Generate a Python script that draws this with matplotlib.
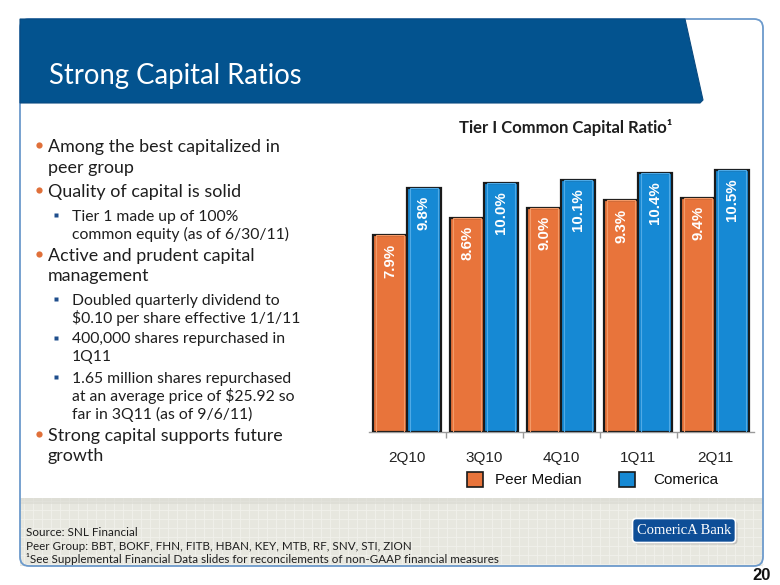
import matplotlib
matplotlib.use("Agg")
import matplotlib.pyplot as plt
from matplotlib.patches import Polygon, FancyBboxPatch, Rectangle
import numpy as np

# ---- data ----
quarters = ["2Q10", "3Q10", "4Q10", "1Q11", "2Q11"]
peer_median = [7.9, 8.6, 9.0, 9.3, 9.4]
comerica = [9.8, 10.0, 10.1, 10.4, 10.5]
series_names = ["Peer Median", "Comerica"]

slide_title = "Strong Capital Ratios"
chart_title = "Tier I Common Capital Ratio"
bullets = [
    (0, ["Among the best capitalized in", "peer group"]),
    (0, ["Quality of capital is solid"]),
    (1, ["Tier 1 made up of 100%", "common equity (as of 6/30/11)"]),
    (0, ["Active and prudent capital", "management"]),
    (1, ["Doubled quarterly dividend to", "$0.10 per share effective 1/1/11"]),
    (1, ["400,000 shares repurchased in", "1Q11"]),
    (1, ["1.65 million shares repurchased", "at an average price of $25.92 so", "far in 3Q11 (as of 9/6/11)"]),
    (0, ["Strong capital supports future", "growth"]),
]
footer_lines = [
    "Source: SNL Financial",
    "Peer Group: BBT, BOKF, FHN, FITB, HBAN, KEY, MTB, RF, SNV, STI, ZION",
    "\u00b9See Supplemental Financial Data slides for reconcilements of non-GAAP financial measures",
]

ORANGE = "#E8743B"
BLUE = "#1689D4"
HEADER = "#03538F"
BODY_FONT = ["Lato", "DejaVu Sans"]
ARIAL = ["Liberation Sans", "DejaVu Sans"]

W, H = 780, 585
fig = plt.figure(figsize=(7.8, 5.85), dpi=100)
bg = fig.add_axes([0, 0, 1, 1])
bg.set_xlim(0, W)
bg.set_ylim(H, 0)
bg.axis("off")

# footer band with grid texture
bg.add_patch(Rectangle((20, 498), 743, 68, facecolor="#E7E7DF", edgecolor="none", zorder=1))
for gx in np.arange(24, 763, 9):
    bg.plot([gx, gx], [498, 566], color="#F1F1EC", lw=0.6, zorder=1.1)
for gy in np.arange(501, 566, 9):
    bg.plot([20, 763], [gy, gy], color="#F1F1EC", lw=0.6, zorder=1.1)
bg.add_patch(Rectangle((20, 498), 743, 6, facecolor="#D9D9D0", edgecolor="none", alpha=0.6, zorder=1.2))

# frame
bg.add_patch(FancyBboxPatch((20, 19), 743, 547, boxstyle="round,pad=0,rounding_size=9",
                            facecolor="none", edgecolor="#6C9ACC", lw=1.3, zorder=2))

# header band
bg.add_patch(Polygon([(20, 19), (685, 19), (703, 100), (700, 103), (20, 103)],
                     closed=True, facecolor=HEADER, edgecolor="#0A4A80", lw=0.8, zorder=3))
bg.text(49, 76, slide_title, color="white", fontsize=19.8, family=BODY_FONT,
        va="center", ha="left", zorder=4)

# bullets
y = 147
for level, lines in bullets:
    if level == 0:
        bg.plot(39, y - 2, marker="o", ms=4.5, color="#E0703A", mec="none", zorder=4)
        x0, fs, dy = 48, 12.9, 20.5
    else:
        bg.plot(56, y - 2, marker="s", ms=3.5, color="#1F4E8C", mec="none", zorder=4)
        x0, fs, dy = 72, 11.3, 18
    for ln in lines:
        bg.text(x0, y, ln, fontsize=fs, family=BODY_FONT, color="#1E1E1E",
                va="center", ha="left", zorder=4)
        y += dy
    y += 4 if level == 0 else 3

# footer text
fy = [533, 546, 559]
for i, ln in enumerate(footer_lines):
    bg.text(26, fy[i], ln, fontsize=8.4, family=BODY_FONT, color="#1E1E1E",
            va="center", ha="left", zorder=4)

# logo
bg.add_patch(FancyBboxPatch((636, 522), 100, 21, boxstyle="round,pad=1.5,rounding_size=4",
                            facecolor="#9A9A9A", edgecolor="none", alpha=0.5, zorder=3))
bg.add_patch(FancyBboxPatch((634, 520), 100, 21, boxstyle="round,pad=1.5,rounding_size=4",
                            facecolor="#0E4E97", edgecolor="white", lw=1.2, zorder=4))
bg.text(684, 531, "ComericA Bank", color="white", fontsize=10.5,
        family=["Liberation Serif", "DejaVu Serif"], ha="center", va="center", zorder=5)

# page number
bg.text(762, 576, "20", fontsize=12, fontweight="bold", family=ARIAL,
        ha="center", va="center", color="#111111")

# chart title
bg.text(566, 128, chart_title + "\u00b9", fontsize=12, fontweight="bold", family=BODY_FONT,
        ha="center", va="center", color="#1E1E1E")

# ---- chart ----
left_px, right_px, base_px = 368.5, 753.5, 432
top_px = 133
ax = fig.add_axes([left_px / W, (H - base_px) / H, (right_px - left_px) / W, (base_px - top_px) / H])
ax.set_facecolor("none")
x = np.arange(len(quarters))
bw = 0.44
b1 = ax.bar(x - bw / 2, peer_median, bw, color=ORANGE, edgecolor="#1A1A1A", lw=1.6, zorder=3)
b2 = ax.bar(x + bw / 2, comerica, bw, color=BLUE, edgecolor="#1A1A1A", lw=1.6, zorder=3)
# subtle bevel highlight inside each bar
ax.bar(x - bw / 2, peer_median, bw * 0.84, color="none", edgecolor="#F39A68", lw=0.8, zorder=3.5)
ax.bar(x + bw / 2, comerica, bw * 0.84, color="none", edgecolor="#4FAAE6", lw=0.8, zorder=3.5)
for bars, vals in ((b1, peer_median), (b2, comerica)):
    for rect, v in zip(bars, vals):
        ax.annotate(f"{v:.1f}%", (rect.get_x() + rect.get_width() / 2, v),
                    xytext=(0, -6), textcoords="offset points", rotation=90,
                    ha="center", va="top", color="white", fontsize=10.8,
                    fontweight="bold", family=ARIAL, zorder=5)
ax.set_xlim(-0.5, len(quarters) - 0.5)
ax.set_ylim(0, 12)
for s in ("left", "right", "top"):
    ax.spines[s].set_visible(False)
ax.spines["bottom"].set_color("#9A9A9A")
ax.spines["bottom"].set_linewidth(1.0)
ax.set_yticks([])
ax.set_xticks(x)
ax.set_xticklabels(quarters, fontsize=11, family=ARIAL, color="#222222")
ax.tick_params(axis="x", which="major", length=0, pad=14)
ax.set_xticks(x[:-1] + 0.5, minor=True)
ax.tick_params(axis="x", which="minor", length=4, color="#9A9A9A", width=1)

# legend
for (lx, tx), c, name in zip(((467, 495), (619, 653)), (ORANGE, BLUE), series_names):
    bg.add_patch(Rectangle((lx, 472), 16, 15, facecolor=c, edgecolor="#1A1A1A", lw=1.2, zorder=4))
    bg.text(tx, 480.5, name, fontsize=11, family=ARIAL, color="#111111",
            ha="left", va="center", zorder=4)

fig.savefig("out.png", dpi=100)
